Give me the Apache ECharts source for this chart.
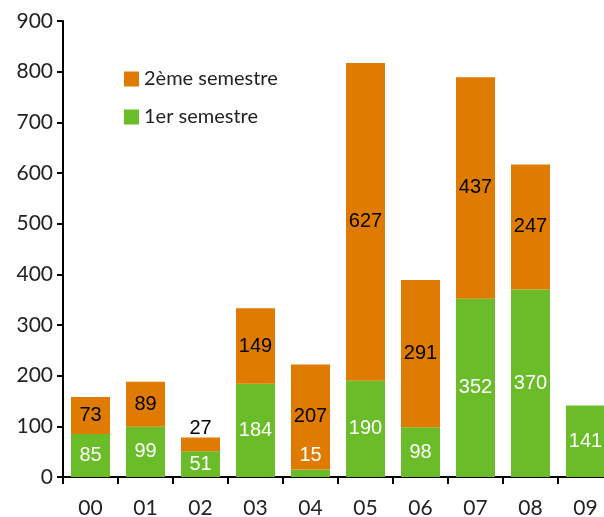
<!DOCTYPE html>
<html>
<head>
<meta charset="utf-8">
<script src="https://cdn.jsdelivr.net/npm/echarts@6/dist/echarts.min.js"></script>
<style>
  html, body { margin: 0; padding: 0; background: #fff; }
  #chart { width: 604px; height: 517px; }
</style>
</head>
<body>
<div id="chart"></div>
<script>
// Years (two-digit) on the category axis
const years = ['00', '01', '02', '03', '04', '05', '06', '07', '08', '09'];
// First-half values (bottom of each stack)
const firstHalf = [85, 99, 51, 184, 15, 190, 98, 352, 370, 141];
// Second-half values (top of each stack); none yet for 09
const secondHalf = [73, 89, 27, 149, 207, 627, 291, 437, 247, null];
// Value axis ticks
const yTicks = [0, 100, 200, 300, 400, 500, 600, 700, 800, 900];

const seriesNames = ['1er semestre', '2ème semestre'];
const ORANGE = '#DF7B00';
const GREEN = '#6ABD28';
const AXIS_FONT = 'Lato, "Open Sans", sans-serif';
const LABEL_FONT = '"Liberation Sans", Arial, sans-serif';

// Segments too thin to hold their label get it placed on top instead
function labelled(values, thinLimit, topDistance) {
  return values.map(v => {
    if (v == null) return null;
    if (v < thinLimit) return { value: v, label: { position: 'top', distance: topDistance } };
    return v;
  });
}

const chart = echarts.init(document.getElementById('chart'), null, { renderer: 'canvas' });
chart.setOption({
  animation: false,
  backgroundColor: '#ffffff',
  grid: {
    left: 63, top: 21, bottom: 40, width: 550,
    containLabel: false,
    outerBoundsMode: 'none'
  },
  legend: {
    orient: 'vertical',
    left: 119,
    top: 64,
    itemWidth: 15,
    itemHeight: 15,
    itemGap: 18,
    icon: 'rect',
    data: [seriesNames[1], seriesNames[0]],
    textStyle: { fontFamily: AXIS_FONT, fontSize: 20, color: '#222' }
  },
  xAxis: {
    type: 'category',
    data: years,
    boundaryGap: true,
    axisLine: { lineStyle: { color: '#000', width: 2 } },
    axisTick: { show: true, alignWithLabel: false, length: 7, lineStyle: { color: '#000', width: 2 } },
    axisLabel: { fontFamily: AXIS_FONT, fontSize: 21, color: '#222', margin: 21 },
    splitLine: { show: false }
  },
  yAxis: {
    type: 'value',
    min: yTicks[0],
    max: yTicks[yTicks.length - 1],
    interval: yTicks[1] - yTicks[0],
    axisLine: { show: true, lineStyle: { color: '#000', width: 2 } },
    axisTick: { show: true, length: 6, lineStyle: { color: '#000', width: 2 } },
    axisLabel: { fontFamily: AXIS_FONT, fontSize: 21, color: '#222', margin: 10 },
    splitLine: { show: false }
  },
  series: [
    {
      name: seriesNames[0],
      type: 'bar',
      stack: 'total',
      barWidth: 39,
      itemStyle: { color: GREEN },
      label: {
        show: true,
        position: 'inside',
        color: '#fff',
        fontFamily: LABEL_FONT,
        fontSize: 20
      },
      data: labelled(firstHalf, 30, 4)
    },
    {
      name: seriesNames[1],
      type: 'bar',
      stack: 'total',
      barWidth: 39,
      itemStyle: { color: ORANGE },
      label: {
        show: true,
        position: 'inside',
        color: '#000',
        fontFamily: LABEL_FONT,
        fontSize: 20
      },
      data: labelled(secondHalf, 30, -1)
    }
  ]
});
</script>
</body>
</html>
